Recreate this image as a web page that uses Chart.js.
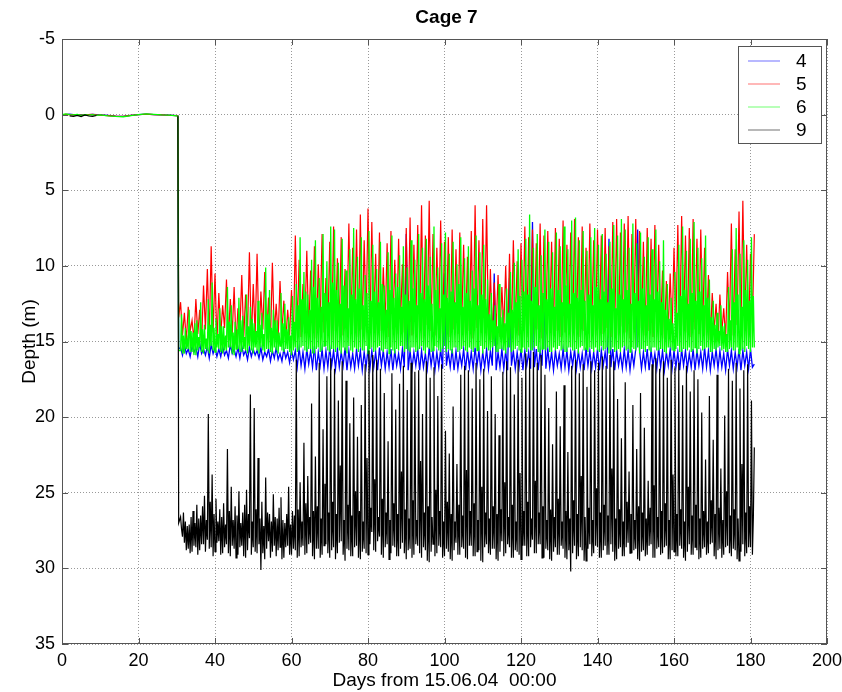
<!DOCTYPE html>
<html lang="en">
<head>
<meta charset="UTF-8">
<title>Cage 7</title>
<script src="https://cdn.jsdelivr.net/npm/chart.js"></script>
<style>
    body {
        margin: 0;
        background: #fff;
    }
    #wrap {
        width: 842px;
        height: 692px;
    }
</style>
</head>
<body>
<div id="wrap"><canvas id="depth-chart" width="842" height="692"></canvas></div>
<script>
// time at the surface before the fish went in (days)
const surfaceDays = [0, 1, 2, 3, 4, 5, 6, 7, 8, 9, 10, 12, 14, 16, 18, 20, 22, 24, 26, 28, 30, 30.3, 30.5];
// logger readings after that, from day 31 (tags 4 and 5 every half day, 6 and 9 every quarter day)
const sampleStart = 31;
const tagSteps = [0.5, 0.5, 0.25, 0.25];

// depth (m) per tag: surface part first, then the logger part in rows
// tag 4, rows of 10 days
const depth4 = [
    0.02, 0.0, -0.03, 0.0, 0.02, 0.0, 0.03, 0.0, -0.02, 0.0, 0.02, 0.05, 0.1, 0.12, 0.05, 0.0, -0.03, 0.0, 0.02, 0.03, 0.06, 0.08, 15.5,
    15.4,15.9, 15.2,15.8, 15.5,16.0, 15.3,15.7, 15.4,16.0, 15.1,15.8, 15.5,15.9, 15.3,16.1, 15.2,15.8, 15.4,16.0,
    15.5,16.0, 15.3,15.9, 15.6,16.1, 15.2,15.8, 15.5,16.0, 15.4,16.1, 15.3,15.9, 15.6,16.2, 15.4,16.0, 15.5,15.9,
    15.6,16.1, 15.4,16.2, 15.7,16.0, 15.5,16.3, 15.6,16.1, 15.4,16.2, 15.8,16.3, 15.5,16.1, 15.7,16.4, 15.6,16.2,
    15.6,16.7, 15.4,16.6, 15.7,16.8, 15.5,16.5, 15.6,16.7, 15.3,16.9, 15.7,16.6, 15.5,16.8, 15.6,16.7, 15.4,16.6,
    15.6,16.8, 15.5,16.7, 15.7,16.6, 15.4,16.9, 15.6,16.7, 15.8,16.8, 15.5,16.6, 15.6,16.9, 15.7,16.7, 15.5,16.8,
    15.6,16.7, 15.7,16.9, 15.4,16.6, 15.6,16.8, 15.7,16.7, 15.5,16.9, 15.6,16.6, 15.8,16.8, 15.5,16.7, 7.9,16.9,
    15.6,16.8, 15.7,16.6, 15.5,16.9, 15.6,16.7, 15.8,16.8, 15.4,16.6, 15.6,16.9, 15.7,16.7, 15.5,16.8, 10.5,16.6,
    15.7,16.7, 15.5,16.9, 15.6,16.8, 15.8,16.6, 15.5,16.9, 15.6,16.7, 15.7,16.8, 15.4,16.6, 15.6,16.9, 15.7,16.7,
    15.5,16.8, 15.6,16.6, 10.5,16.9, 15.7,16.7, 15.5,16.8, 15.6,16.9, 10.8,16.6, 15.6,16.8, 15.7,16.7, 15.5,16.9,
    15.6,16.6, 15.7,16.8, 7.1,16.7, 15.5,16.9, 15.6,16.6, 12.0,16.8, 15.5,16.7, 15.7,16.9, 15.6,16.6, 15.8,16.8,
    15.5,16.7, 15.6,16.9, 15.7,16.6, 15.5,16.8, 15.6,16.7, 15.8,16.9, 15.4,16.6, 15.6,16.8, 15.7,16.7, 15.5,16.9,
    15.6,16.6, 15.7,16.8, 8.2,16.7, 15.5,16.9, 15.6,16.6, 15.8,16.8, 15.5,16.7, 15.6,16.9, 15.7,16.6, 15.5,7.6,
    15.6,16.8, 15.7,16.7, 15.5,16.9, 15.6,16.6, 15.8,16.8, 15.4,16.7, 15.6,16.9, 15.7,16.6, 15.5,16.8, 15.6,16.7,
    15.7,16.9, 15.5,16.6, 15.6,16.8, 15.8,16.7, 15.5,16.9, 15.6,16.6, 15.7,16.8, 15.4,16.7, 15.6,16.9, 15.7,16.6,
    15.5,16.8, 15.6,16.7, 15.8,16.9, 15.5,16.6, 15.6,16.8, 15.7,16.7, 15.5,16.9, 15.6,16.6, 15.7,16.8, 15.5,16.7,
    16.5
];

// tag 5, rows of 10 days
const depth5 = [
    0.01, -0.02, 0.0, 0.02, 0.0, 0.03, 0.01, 0.0, -0.01, 0.02, 0.03, 0.06, 0.1, 0.12, 0.05, 0.01, -0.03, 0.0, 0.02, 0.04, 0.07, 0.09, 13.4,
    12.4,14.6, 13.1,15.0, 12.7,14.3, 13.6,14.9, 12.2,14.5, 12.9,15.1, 11.3,14.2, 10.2,14.8, 8.7,14.4, 10.5,15.0,
    11.8,14.6, 12.6,14.1, 10.9,14.9, 12.2,14.5, 11.4,15.2, 12.8,14.3, 10.6,14.8, 11.9,14.4, 9.1,15.0, 11.2,14.6,
    9.2,14.9, 11.7,14.2, 10.4,14.7, 12.1,15.1, 9.8,14.5, 12.5,14.8, 11.0,14.3, 12.3,15.0, 12.9,14.6, 11.6,14.9,
    8.0,14.1, 9.6,14.7, 11.2,13.9, 9.0,14.5, 10.3,14.0, 8.7,14.8, 9.9,13.8, 7.9,14.4, 10.8,14.2, 8.4,14.9,
    7.4,14.3, 9.5,14.0, 8.1,14.6, 10.2,13.9, 7.2,14.5, 8.8,14.1, 7.6,14.7, 6.6,14.2, 8.3,13.8, 6.2,14.4,
    7.1,14.0, 9.2,14.6, 7.8,14.3, 10.1,13.9, 8.5,14.7, 7.7,14.1, 9.6,14.5, 8.2,13.8, 9.9,14.4, 7.5,14.2,
    6.8,14.6, 8.6,14.0, 7.3,14.4, 6.0,14.8, 8.0,13.9, 5.7,14.3, 7.9,14.6, 8.8,14.1, 7.0,14.5, 8.4,14.0,
    8.1,14.7, 7.6,14.2, 8.9,14.5, 7.8,13.9, 8.6,14.6, 9.4,14.3, 7.7,14.8, 6.0,14.1, 8.3,14.4, 6.9,14.0,
    6.0,14.6, 10.2,14.9, 11.1,14.3, 10.6,14.7, 11.4,14.2, 10.0,14.8, 9.2,14.5, 8.3,14.1, 9.7,14.6, 8.5,14.3,
    7.4,14.7, 8.1,14.0, 7.6,14.5, 8.5,14.2, 7.2,14.8, 8.0,14.4, 7.7,14.1, 8.4,14.6, 7.5,14.3, 8.2,14.7,
    7.0,14.4, 8.6,14.0, 7.8,14.6, 6.9,14.2, 8.1,14.7, 7.4,14.3, 8.8,14.5, 7.2,14.0, 8.3,14.6, 7.6,14.2,
    8.0,14.5, 7.5,14.1, 8.7,14.7, 7.1,14.3, 6.9,14.6, 7.8,14.0, 7.2,14.4, 6.7,14.8, 7.9,14.2, 6.9,14.5,
    7.7,14.1, 8.4,14.6, 7.5,14.3, 8.2,14.7, 7.3,14.0, 8.6,14.4, 10.3,14.8, 11.0,14.2, 10.5,14.5, 8.8,14.1,
    7.3,14.6, 6.7,14.0, 8.0,14.4, 7.5,14.7, 6.9,14.2, 8.2,14.5, 7.6,14.1, 8.8,14.6, 10.6,14.9, 11.8,14.3,
    12.5,15.0, 11.9,14.4, 12.8,14.8, 10.4,14.1, 7.2,14.6, 8.9,13.9, 6.4,14.5, 5.7,14.0, 8.6,14.7, 9.2,13.8,
    7.9
];

// tag 6, rows of 5 days
const depth6 = [
    0.0, -0.05, 0.0, 0.02, -0.02, 0.05, 0.0, 0.03, 0.0, 0.05, 0.02, 0.08, 0.12, 0.14, 0.06, 0.0, -0.05, -0.02, 0.02, 0.03, 0.08, 0.1, 15.6,
    15.6,13.2,15.8,14.6, 15.8,14.1,15.5,14.9, 15.5,12.9,15.7,14.3, 15.7,14.4,15.9,13.8, 15.9,13.6,15.6,14.7,
    15.4,12.4,15.7,14.2, 15.8,13.9,15.5,14.8, 15.6,12.2,15.8,13.9, 15.3,11.1,15.6,14.1, 15.7,13.5,15.4,14.5,
    15.5,12.8,15.7,14.0, 15.8,14.0,15.6,14.6, 15.6,11.4,15.4,13.7, 15.4,12.6,15.8,14.4, 15.9,13.7,15.5,14.2,
    15.5,12.1,15.7,13.6, 15.7,13.3,15.5,14.7, 15.6,11.9,15.8,14.0, 15.3,12.7,15.6,13.5, 15.8,13.8,15.4,14.3,
    15.6,12.3,15.8,13.9, 15.4,13.1,15.6,14.5, 15.7,10.1,15.5,13.2, 15.5,11.6,15.7,14.1, 15.8,12.9,15.4,13.6,
    15.6,13.6,15.8,14.4, 15.3,11.8,15.6,13.8, 15.7,12.5,15.5,14.2, 15.5,13.4,15.7,14.6, 15.9,12.0,15.6,13.7,
    15.4,11.2,15.7,12.6, 15.6,8.1,15.4,12.2, 15.3,10.4,15.6,11.7, 15.7,11.9,15.5,12.9, 15.5,9.6,15.8,11.4,
    15.8,8.3,15.5,12.1, 15.4,10.8,15.7,12.7, 15.6,7.9,15.3,11.8, 15.3,9.7,15.6,12.4, 15.7,7.4,15.5,11.1,
    15.5,7.6,15.7,11.6, 15.4,9.8,15.6,12.5, 15.8,8.2,15.4,11.3, 15.6,10.3,15.8,12.8, 15.3,8.9,15.6,11.9,
    15.7,7.5,15.4,12.2, 15.5,9.4,15.7,11.5, 15.4,8.1,15.6,12.6, 15.6,10.6,15.3,11.8, 15.8,7.7,15.5,12.3,
    15.4,8.6,15.7,11.7, 15.6,10.2,15.4,12.4, 15.3,8.4,15.6,11.2, 15.7,11.3,15.5,12.9, 15.5,9.1,15.8,11.6,
    15.4,8.0,15.6,12.1, 15.8,10.5,15.5,11.4, 15.6,9.3,15.3,12.7, 15.3,8.7,15.7,11.9, 15.5,10.1,15.6,12.3,
    15.7,8.3,15.4,11.5, 15.4,9.6,15.7,12.6, 15.6,7.9,15.5,11.8, 15.3,8.8,15.6,12.2, 15.8,8.2,15.4,11.3,
    15.5,9.4,15.7,12.5, 15.6,7.4,15.3,11.6, 15.4,10.1,15.6,12.8, 15.7,8.5,15.5,11.9, 15.3,7.8,15.7,12.1,
    15.5,9.2,15.6,11.7, 15.8,8.4,15.4,12.4, 15.4,9.9,15.7,11.2, 15.6,8.1,15.5,12.7, 15.3,9.5,15.6,11.8,
    15.7,8.7,15.4,12.3, 15.5,10.3,15.7,11.5, 15.4,8.0,15.6,12.6, 15.6,9.1,15.3,11.9, 15.8,8.6,15.5,12.2,
    15.4,10.9,15.6,13.2, 15.6,11.8,15.4,13.6, 15.3,12.6,15.7,14.0, 15.7,11.2,15.5,13.4, 15.5,12.9,15.6,13.8,
    15.8,11.5,15.4,13.1, 15.4,10.4,15.7,12.9, 15.6,9.8,15.5,12.4, 15.3,8.9,15.6,12.0, 15.7,9.6,15.4,11.7,
    15.5,8.2,15.7,11.9, 15.4,6.6,15.6,12.3, 15.6,8.8,15.4,11.4, 15.3,7.9,15.7,12.6, 15.8,9.3,15.5,11.8,
    15.5,7.6,15.6,12.2, 15.4,8.4,15.7,11.5, 15.7,9.1,15.4,12.7, 15.6,7.8,15.5,11.6, 15.3,8.7,15.6,12.4,
    15.5,7.4,15.7,11.3, 15.7,8.9,15.4,12.5, 15.4,7.0,15.6,11.8, 15.6,6.8,15.5,12.1, 15.8,8.3,15.4,11.6,
    15.3,7.7,15.6,12.3, 15.5,9.0,15.7,11.9, 15.4,8.1,15.5,12.6, 15.7,7.5,15.4,11.4, 15.6,8.6,15.7,12.2,
    15.3,7.9,15.6,11.7, 15.5,9.2,15.4,12.4, 15.8,8.4,15.6,11.5, 15.4,7.3,15.7,12.8, 15.6,8.0,15.5,11.9,
    15.7,6.9,15.4,12.2, 15.3,7.6,15.6,11.6, 15.5,8.8,15.7,12.5, 15.4,7.2,15.5,11.8, 15.6,8.5,15.4,12.3,
    15.8,7.8,15.5,11.5, 15.5,9.4,15.7,12.6, 15.3,8.1,15.6,11.9, 15.7,8.9,15.4,12.2, 15.4,7.6,15.6,11.7,
    15.6,9.7,15.5,12.4, 15.5,8.3,15.7,12.9, 15.8,11.2,15.4,13.5, 15.4,12.1,15.6,13.8, 15.6,10.4,15.5,13.1,
    15.3,8.6,15.7,12.0, 15.7,7.4,15.5,11.6, 15.5,9.0,15.6,12.5, 15.4,8.2,15.7,11.8, 15.6,7.1,15.4,12.3,
    15.8,8.8,15.5,11.7, 15.3,9.5,15.6,12.6, 15.5,8.0,15.4,12.1, 15.4,10.9,15.7,13.4, 15.7,12.3,15.5,13.9,
    15.6,13.1,15.4,14.3, 15.3,12.6,15.6,14.0, 15.5,13.8,15.7,14.5, 15.7,11.4,15.5,13.6, 15.4,8.9,15.6,12.4,
    15.6,7.5,15.4,11.9, 15.8,9.2,15.6,12.7, 15.5,8.3,15.7,11.6, 15.3,9.6,15.5,12.3, 15.7,8.1,15.4,12.0,
    15.4
];

// tag 9, rows of 5 days
const depth9 = [
    null, null, 0.08, 0.12, 0.05, 0.13, 0.02, 0.09, 0.11, 0.06, null, null, null, null, null, null, null, null, null, null, null, 0.1, 27.0,
    26.6,27.4,27.9,26.3, 28.3,26.9,28.8,27.2, 28.7,27.1,29.0,26.6, 28.9,26.2,28.5,27.0, 28.6,25.8,29.1,26.7,
    28.8,26.5,28.4,25.9, 28.4,25.2,28.9,26.8, 28.1,19.8,28.7,25.6, 28.6,23.8,29.2,26.4, 28.9,25.4,28.3,26.9,
    28.2,26.1,29.1,26.6, 29.0,25.7,28.6,27.1, 28.4,22.1,29.0,26.2, 29.2,24.6,28.5,26.8, 28.7,25.9,29.3,26.5,
    29.1,24.9,28.6,27.0, 28.5,26.3,29.2,25.8, 29.3,24.8,28.8,26.4, 28.0,18.5,29.1,26.9, 28.6,19.4,28.9,26.1,
    29.0,22.7,28.4,26.7, 30.1,25.6,29.0,27.2, 29.4,24.0,28.7,26.3, 28.2,26.4,29.3,26.9, 28.9,25.1,28.5,26.6,
    29.2,26.7,28.8,26.0, 28.6,25.3,29.4,26.8, 29.3,27.0,28.6,26.4, 28.5,24.6,29.1,27.1, 29.1,26.2,28.7,26.5,
    28.8,16.2,29.3,26.1, 29.2,24.3,28.6,26.9, 28.5,21.7,29.1,25.7, 29.0,23.9,28.4,26.6, 28.3,19.1,29.2,26.2,
    29.4,22.6,28.7,25.9, 28.7,16.4,29.3,26.7, 29.1,20.8,28.5,24.4, 28.4,17.3,29.0,26.3, 29.3,16.1,28.8,25.6,
    28.6,16.8,29.4,26.4, 29.0,18.9,28.3,23.2, 28.2,16.3,29.1,26.8, 29.5,17.6,28.7,25.8, 28.8,20.4,29.2,26.5,
    29.2,18.7,28.6,24.9, 28.5,21.3,29.3,26.2, 29.4,19.2,28.9,26.9, 28.7,16.5,29.0,22.7, 29.1,15.6,28.4,26.0,
    27.6,15.9,28.8,24.1, 28.9,16.2,28.2,26.6, 27.9,16.8,29.1,25.4, 29.3,18.4,28.6,26.3, 28.4,21.6,29.4,26.8,
    29.0,17.1,28.5,25.7, 28.6,19.5,29.2,26.4, 29.2,17.8,28.7,23.6, 28.3,16.6,29.0,26.1, 29.4,18.2,28.8,26.7,
    28.7,16.4,29.3,25.5, 29.1,17.0,28.4,26.8, 28.5,16.9,29.0,22.9, 29.3,19.8,28.6,26.3, 28.8,16.3,29.5,25.9,
    29.6,17.4,28.9,26.6, 28.4,16.7,29.2,24.8, 29.0,18.6,28.5,26.2, 28.6,16.5,29.3,26.9, 29.2,20.9,28.7,25.6,
    28.9,22.4,29.4,26.4, 29.5,19.3,28.8,26.9, 28.3,23.1,29.1,25.8, 29.1,17.2,28.6,26.5, 28.7,16.6,29.3,23.5,
    29.4,16.9,28.5,26.2, 28.5,18.1,29.2,25.7, 29.2,16.4,28.9,26.8, 28.8,17.5,29.5,24.6, 29.6,16.8,28.6,26.3,
    28.4,19.6,29.0,26.7, 29.1,17.3,28.7,25.9, 28.7,19.8,29.4,26.4, 29.5,21.2,28.9,26.1, 28.2,17.0,29.2,24.3,
    29.0,16.3,28.4,26.6, 28.6,16.7,29.3,25.8, 29.3,18.5,28.8,26.9, 28.9,16.2,29.1,23.7, 29.4,17.4,28.5,26.2,
    28.5,15.8,29.2,25.6, 29.2,16.1,28.6,26.7, 28.1,15.7,29.0,24.2, 29.0,16.4,28.4,26.3, 28.4,15.9,29.3,25.9,
    29.3,17.2,28.7,26.8, 28.8,19.4,29.4,26.1, 29.5,21.8,28.9,26.6, 28.6,18.3,29.1,25.4, 29.1,20.6,28.5,26.9,
    28.7,17.9,29.3,26.2, 29.4,22.3,28.8,26.7, 30.2,16.6,29.0,25.5, 28.5,16.2,29.4,26.4, 29.2,17.1,28.6,23.9,
    28.8,16.5,29.5,26.6, 29.5,18.0,28.7,26.0, 28.4,16.3,29.2,26.8, 29.0,16.9,28.5,24.7, 28.6,16.4,29.3,26.3,
    29.3,16.0,28.8,25.8, 28.5,16.6,29.1,26.5, 29.1,15.9,28.4,23.4, 28.9,16.3,29.5,26.7, 29.4,18.8,28.7,26.1,
    28.6,21.4,29.2,26.9, 29.2,17.7,28.6,25.6, 28.3,23.6,29.0,26.4, 29.0,19.2,28.8,26.8, 28.7,22.1,29.4,25.9,
    29.5,18.4,28.9,26.3, 28.8,20.7,29.2,26.7, 29.1,24.2,28.5,26.0, 28.4,16.5,29.3,24.5, 29.3,16.1,28.7,26.6,
    28.6,16.8,29.1,26.2, 29.0,16.3,28.6,25.7, 28.5,17.4,29.4,26.8, 29.4,16.2,28.8,23.8, 28.9,16.7,29.2,26.4,
    29.2,16.4,28.5,26.1, 28.7,17.9,29.3,26.9, 29.5,16.6,28.9,24.6, 28.4,18.3,29.1,26.5, 29.1,16.9,28.6,25.8,
    28.8,17.5,29.4,26.7, 29.3,19.7,28.7,26.2, 28.6,22.8,29.1,26.9, 29.0,18.6,28.4,25.5, 28.3,21.5,29.2,26.4,
    29.4,17.2,28.8,26.0, 28.7,23.4,29.3,26.8, 29.1,19.9,28.6,24.9, 28.5,16.8,29.0,26.5, 29.2,17.6,28.7,26.1,
    28.8,16.4,29.4,26.7, 29.5,18.1,28.9,23.1, 28.4,16.9,29.2,26.3, 29.0,16.5,28.6,25.9, 28.6,18.9,29.1,26.6,
    22.0
];

const tagNames = ['4', '5', '6', '9'];
const tagValues = [depth4, depth5, depth6, depth9];
const tagColors = ['#0000ff', '#ff0000', '#00ff00', '#000000'];
const tagWidths = [1.3, 1.2, 1.3, 1.2];
const legendColors = ['#a0a0ff', '#ffa0a0', '#a0ffa0', '#a0a0a0'];

const fontFamily = "'Liberation Sans', Arial, sans-serif";

// pair every reading with its day: the surface days, then the regular logger times
function toPoints(values, step) {
    return values.map((v, i) => ({
        x: i < surfaceDays.length ? surfaceDays[i] : sampleStart + (i - surfaceDays.length) * step,
        y: v
    }));
}

// box round the axes with inward ticks, title and boxed legend (matlab look)
const matlabBox = {
    id: 'matlabBox',
    afterDraw(chart) {
        const { ctx, chartArea: a, scales } = chart;
        ctx.save();
        ctx.strokeStyle = '#555';
        ctx.lineWidth = 1;
        ctx.strokeRect(a.left + 0.5, a.top + 0.5, a.right - a.left - 1, a.bottom - a.top - 1);

        ctx.beginPath();
        scales.x.ticks.forEach(t => {
            const px = Math.round(scales.x.getPixelForValue(t.value)) + 0.5;
            ctx.moveTo(px, a.bottom); ctx.lineTo(px, a.bottom - 6);
            ctx.moveTo(px, a.top); ctx.lineTo(px, a.top + 6);
        });
        scales.y.ticks.forEach(t => {
            const py = Math.round(scales.y.getPixelForValue(t.value)) + 0.5;
            ctx.moveTo(a.left, py); ctx.lineTo(a.left + 6, py);
            ctx.moveTo(a.right, py); ctx.lineTo(a.right - 6, py);
        });
        ctx.stroke();

        // title
        ctx.fillStyle = '#000';
        ctx.font = 'bold 19px ' + fontFamily;
        ctx.textAlign = 'center';
        ctx.textBaseline = 'middle';
        ctx.fillText('Cage 7', (a.left + a.right) / 2 + 2, 18);

        // legend
        const bx = a.right - 89, by = a.top + 7, bw = 83, bh = 97;
        ctx.fillStyle = '#fff';
        ctx.fillRect(bx, by, bw, bh);
        ctx.strokeStyle = '#555';
        ctx.strokeRect(bx + 0.5, by + 0.5, bw, bh);
        ctx.font = '19px ' + fontFamily;
        ctx.textAlign = 'left';
        tagNames.forEach((name, k) => {
            const ly = by + 15 + k * 23;
            ctx.strokeStyle = legendColors[k];
            ctx.lineWidth = 1.5;
            ctx.beginPath();
            ctx.moveTo(bx + 10, ly); ctx.lineTo(bx + 42, ly);
            ctx.stroke();
            ctx.fillStyle = '#000';
            ctx.fillText(name, bx + 58, ly + 1);
        });
        ctx.restore();
    }
};

const datasets = tagNames.map((name, k) => ({
    label: name,
    data: toPoints(tagValues[k], tagSteps[k]),
    borderColor: tagColors[k],
    borderWidth: tagWidths[k],
    pointRadius: 0,
    tension: 0,
    fill: false,
    order: 3 - k   // black on top, then green, red, blue
}));

new Chart(document.getElementById('depth-chart'), {
    type: 'line',
    data: { datasets: datasets },
    options: {
        responsive: false,
        animation: false,
        devicePixelRatio: 1,
        layout: { padding: { top: 39, right: 15, left: 0, bottom: 0 } },
        plugins: {
            legend: { display: false },
            tooltip: { enabled: false }
        },
        scales: {
            x: {
                type: 'linear',
                min: 0,
                max: 200,
                ticks: { stepSize: 20, color: '#000', padding: 6, maxRotation: 0, font: { size: 18, family: fontFamily } },
                grid: { color: '#999', drawTicks: false },
                border: { display: false, dash: [1, 2] },
                title: { display: true, text: 'Days from 15.06.04  00:00', color: '#000', padding: 0, font: { size: 19, family: fontFamily } },
                afterFit: s => {
                    s.height = 48;
                    // the "200" label may hang past the plot, like in matlab
                    s.paddingLeft = 0;
                    s.paddingRight = 0;
                }
            },
            y: {
                type: 'linear',
                reverse: true,
                min: -5,
                max: 35,
                ticks: { stepSize: 5, color: '#000', padding: 7, font: { size: 18, family: fontFamily } },
                grid: { color: '#999', drawTicks: false },
                border: { display: false, dash: [1, 2] },
                title: { display: true, text: 'Depth (m)', color: '#000', padding: { top: 18, bottom: 0 }, font: { size: 19, family: fontFamily } },
                afterFit: s => { s.width = 62; }
            }
        }
    },
    plugins: [matlabBox]
});
</script>
</body>
</html>
